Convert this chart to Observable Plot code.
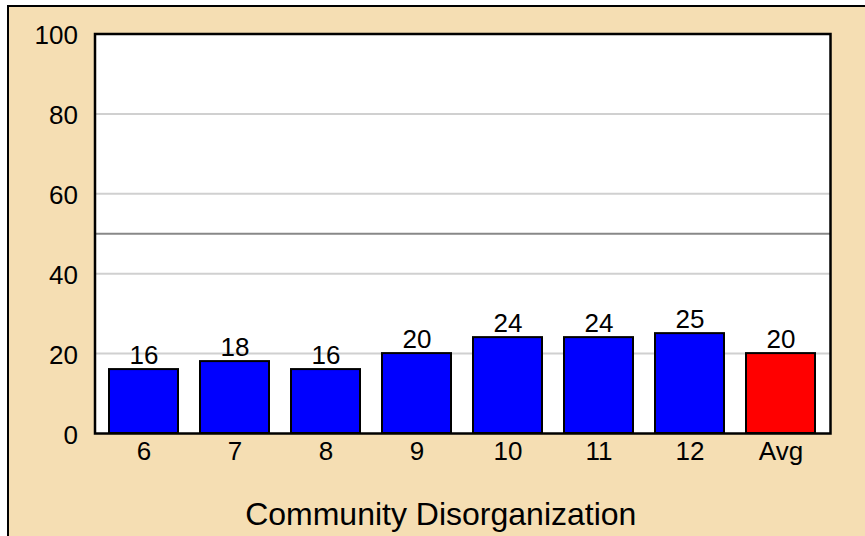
<!DOCTYPE html>
<html>
<head>
<meta charset="utf-8">
<script src="https://cdn.jsdelivr.net/npm/d3@7"></script>
<script src="https://cdn.jsdelivr.net/npm/@observablehq/plot@0.6"></script>
<style>
  html, body { margin: 0; padding: 0; background: white; }
  #wrap { position: relative; width: 865px; height: 536px; overflow: hidden; }
  #bg { position: absolute; left: 7px; top: 5px; right: 0; bottom: 0;
        background: #F5DEB3; border-left: 2px solid black; border-top: 2px solid black; }
  #chart { position: absolute; left: 0; top: 0; }
</style>
</head>
<body>
<div id="wrap"><div id="bg"></div><div id="chart"></div></div>
<script>
const categories = ["6", "7", "8", "9", "10", "11", "12", "Avg"];
const values = [16, 18, 16, 20, 24, 24, 25, 20];
const yTicks = [0, 20, 40, 60, 80, 100];
const gridValues = [20, 40, 60, 80];
const referenceValue = [50];
const xTitle = "Community Disorganization";

const data = categories.map((c, i) => ({category: c, value: values[i]}));

const plot = Plot.plot({
  width: 865,
  height: 536,
  marginLeft: 94.5,
  marginRight: 35,
  marginTop: 33.5,
  marginBottom: 103,
  style: {background: "transparent", fontFamily: "'Liberation Sans', Arial, sans-serif"},
  x: {domain: categories, paddingInner: 0.24, paddingOuter: 0.12, label: null},
  y: {domain: [0, 100], label: null},
  marks: [
    Plot.frame({fill: "white", stroke: null}),
    Plot.ruleY(gridValues, {stroke: "#d0d0d0", strokeWidth: 2}),
    Plot.ruleY(referenceValue, {stroke: "#888888", strokeWidth: 2}),
    Plot.barY(data, {
      x: "category", y: "value",
      fill: d => d.category === "Avg" ? "#FF0000" : "#0000FF",
      stroke: "black", strokeWidth: 2
    }),
    Plot.text(data, {
      x: "category", y: "value", text: d => String(d.value),
      lineAnchor: "bottom", dy: -6, fontSize: 26, fill: "black"
    }),
    Plot.frame({stroke: "black", strokeWidth: 2.5}),
    Plot.axisY({ticks: yTicks, tickSize: 0, tickPadding: 17, fontSize: 26, dy: 2, label: null, fill: "black"}),
    Plot.axisX({tickSize: 0, tickPadding: 8, fontSize: 26, label: null, fill: "black"}),
    Plot.text([xTitle], {frameAnchor: "bottom", lineAnchor: "bottom", dx: -22, dy: 91, fontSize: 32, fill: "black"})
  ]
});
document.getElementById("chart").appendChild(plot);
</script>
</body>
</html>
